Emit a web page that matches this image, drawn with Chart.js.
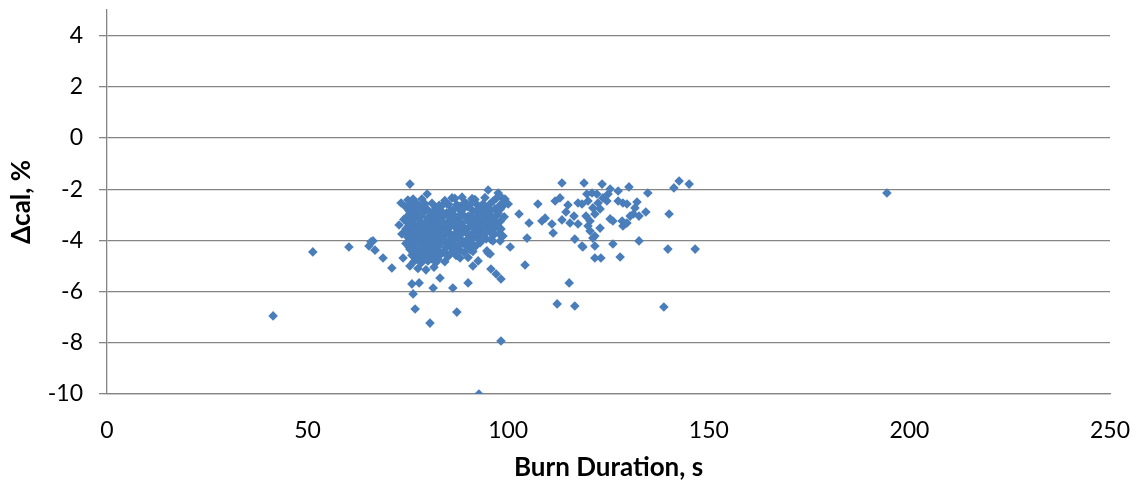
<!DOCTYPE html>
<html>
<head>
<meta charset="utf-8">
<script src="https://cdn.jsdelivr.net/npm/chart.js@4.4.1/dist/chart.umd.min.js"></script>
<style>
  html, body { margin: 0; padding: 0; background: #fff; }
  #wrap { width: 1142px; height: 492px; }
</style>
</head>
<body>
<div id="wrap"><canvas id="scatter"></canvas></div>
<script>
// Sparse burns on the left and the odd outliers
const sparseBurn = [41.4, 51.3, 60.3, 65.3, 65.8, 66.3, 66.8, 68.8, 71.0, 73.8, 75.5, 76.0, 77.8, 76.3, 76.8,
  80.5, 81.3, 83.0, 86.2, 87.2, 90.0, 91.2, 92.5, 95.7, 97.0, 98.2, 98.2, 92.7, 194.4];
const sparseDelta = [-6.95, -4.45, -4.26, -4.22, -4.05, -4.02, -4.38, -4.69, -5.08, -4.69, -5.00, -5.70, -5.66, -6.09, -6.68,
  -7.23, -5.86, -5.47, -5.86, -6.80, -5.66, -5.00, -4.80, -5.12, -5.31, -5.51, -7.93, -10.0, -2.15];

// Dense group, roughly 73-100 s
const clusterBurn = [
  75.5, 73.3, 76.3, 77.3, 79.8, 72.8, 73.5, 75.0, 95.0, 97.5, 99.2, 100.0, 100.5, 95.0, 98.7, 98.0, 96.2, 94.7, 95.5,
  75.0, 76.8, 78.5, 81.0, 84.2, 86.7, 89.2, 91.7, 93.7, 96.2, 98.5,
  75.8, 77.5, 79.3, 82.8, 85.2, 88.0, 90.5,
  74.5, 76.0, 78.0, 80.0, 82.0, 83.5, 85.5, 87.5, 90.0, 92.5, 94.5, 96.7, 98.7,
  75.3, 77.0, 79.0, 81.3, 83.3, 85.7, 88.2, 92.0, 94.2,
  75.5, 77.3, 79.0, 80.8, 82.5, 84.7, 86.7, 88.5, 91.0, 93.2, 95.5, 97.5,
  74.8, 76.5, 78.3, 80.0, 81.8, 83.8, 85.7, 87.7, 90.0, 92.2, 94.7,
  74.0, 75.8, 77.5, 79.5, 81.3, 83.0, 85.0, 87.2, 89.5, 91.5, 94.0, 96.0, 98.0,
  75.0, 76.5, 78.5, 80.5, 82.3, 84.0, 86.2, 88.5, 90.7, 93.0, 95.2,
  75.3, 76.8, 78.5, 80.3, 82.0, 83.8, 86.0, 88.2, 90.5, 92.5, 94.7, 97.0,
  74.5, 76.0, 77.8, 79.3, 81.3, 83.0, 85.0, 87.2, 89.5, 92.0, 94.2, 96.5,
  74.3, 76.0, 77.8, 79.5, 81.0, 82.8, 84.8, 87.0, 89.0, 91.2, 93.5, 95.5, 97.7,
  75.5, 77.0, 78.8, 80.5, 82.3, 84.2, 86.2, 88.2, 90.5, 93.0,
  75.0, 76.8, 78.3, 80.0, 81.8, 83.5, 85.5, 87.7, 90.0, 92.2, 94.5,
  75.8, 77.3, 79.0, 80.8, 82.5, 84.2, 86.0, 88.0, 90.0,
  74.5, 76.3, 78.0, 79.8, 81.3, 83.0, 84.8, 86.7, 88.7, 91.0, 93.0,
  75.3, 77.0, 79.0, 80.8, 82.5, 84.5, 86.7,
  75.5, 77.3, 78.8, 80.5, 82.3, 84.0, 86.0, 88.0, 90.5,
  76.3, 78.0, 80.0, 81.8, 83.5, 85.5,
  76.0, 77.8, 79.5, 81.3, 83.0, 85.0, 87.0,
  77.0, 79.0, 80.8, 82.5,
  76.5, 78.3, 80.0, 82.0, 84.2,
  77.5, 79.5, 81.5,
  86.0, 88.5, 91.0, 94.2, 97.0,
  84.7, 87.2, 89.7, 92.2, 95.5, 98.0,
  86.2, 88.7, 91.2, 93.2, 95.7, 98.0,
  86.0, 88.0, 90.5, 93.0, 95.2, 97.2, 99.0,
  85.5, 87.7, 90.2, 92.5, 95.0, 97.0,
  85.0, 87.0, 89.2, 91.5, 93.7, 96.0, 98.2,
  85.5, 87.5, 89.7, 92.0, 94.2, 96.5,
  86.0, 88.5, 91.0, 93.2, 95.7,
  85.5, 87.7, 89.7, 92.0,
  86.7, 89.0, 91.2,
  88.0, 90.0
];
const clusterDelta = [
  -1.80, -2.54, -2.38, -2.58, -2.19, -3.40, -3.75, -3.32, -2.03, -2.15, -2.38, -2.58, -4.26, -4.49, -3.83, -4.02, -4.02, -4.41, -4.53,
  -2.42, -2.50, -2.38, -2.55, -2.44, -2.36, -2.52, -2.40, -2.58, -2.47, -2.35,
  -2.60, -2.66, -2.58, -2.63, -2.60, -2.67, -2.59,
  -2.70, -2.78, -2.66, -2.81, -2.72, -2.64, -2.85, -2.75, -2.68, -2.80, -2.71, -2.77, -2.65,
  -2.84, -2.88, -2.82, -2.87, -2.85, -2.90, -2.83, -2.86, -2.89,
  -2.95, -3.02, -2.90, -3.05, -2.98, -2.92, -3.04, -2.96, -3.08, -2.91, -3.00, -2.94,
  -3.08, -3.11, -3.06, -3.12, -3.09, -3.07, -3.13, -3.10, -3.06, -3.11, -3.08,
  -3.18, -3.25, -3.14, -3.28, -3.21, -3.16, -3.27, -3.19, -3.12, -3.24, -3.22, -3.15, -3.26,
  -3.31, -3.35, -3.30, -3.34, -3.32, -3.36, -3.29, -3.33, -3.35, -3.30, -3.34,
  -3.42, -3.48, -3.38, -3.50, -3.41, -3.46, -3.37, -3.52, -3.44, -3.40, -3.47, -3.39,
  -3.55, -3.58, -3.53, -3.57, -3.54, -3.59, -3.56, -3.53, -3.58, -3.55, -3.57, -3.54,
  -3.65, -3.72, -3.61, -3.70, -3.66, -3.74, -3.63, -3.69, -3.60, -3.71, -3.64, -3.68, -3.73,
  -3.79, -3.81, -3.77, -3.82, -3.78, -3.80, -3.83, -3.77, -3.81, -3.79,
  -3.88, -3.95, -3.86, -3.97, -3.90, -3.84, -3.96, -3.89, -3.93, -3.87, -3.94,
  -4.02, -4.04, -4.00, -4.05, -4.01, -4.03, -4.06, -4.02, -4.00,
  -4.12, -4.18, -4.08, -4.20, -4.13, -4.16, -4.10, -4.19, -4.11, -4.15, -4.09,
  -4.26, -4.28, -4.24, -4.27, -4.25, -4.29, -4.26,
  -4.35, -4.42, -4.33, -4.40, -4.37, -4.44, -4.31, -4.39, -4.36,
  -4.49, -4.51, -4.47, -4.50, -4.48, -4.52,
  -4.58, -4.64, -4.60, -4.66, -4.57, -4.63, -4.59,
  -4.73, -4.75, -4.71, -4.74,
  -4.82, -4.88, -4.80, -4.86, -4.83,
  -5.10, -5.15, -5.05,
  -2.34, -2.31, -2.37, -2.33, -2.36,
  -2.58, -2.61, -2.56, -2.60, -2.57, -2.62,
  -2.81, -2.79, -2.84, -2.80, -2.83, -2.78,
  -3.05, -3.03, -3.07, -3.04, -3.06, -3.02, -3.08,
  -3.28, -3.31, -3.26, -3.30, -3.27, -3.32,
  -3.52, -3.49, -3.54, -3.51, -3.53, -3.50, -3.55,
  -3.75, -3.78, -3.73, -3.76, -3.74, -3.77,
  -3.98, -4.01, -3.96, -4.00, -3.97,
  -4.22, -4.20, -4.24, -4.21,
  -4.45, -4.47, -4.43,
  -4.69, -4.67
];

// Longer burns, roughly 100-150 s
const longBurn = [
  113.4, 118.9, 123.4, 130.1, 125.4, 134.8, 142.6, 141.3, 145.1, 140.1, 139.8, 146.6, 132.6, 134.3, 132.1,
  127.9, 126.1, 121.6, 123.1, 118.6, 116.6, 121.1, 115.2, 104.2, 104.7, 105.2, 102.7, 107.4, 111.7, 112.9,
  109.2, 108.4, 110.9, 111.2, 114.9, 114.4, 113.4, 115.4, 117.4, 118.4, 116.4, 117.4, 119.6, 120.9, 122.1,
  119.9, 121.1, 122.4, 123.6, 124.9, 119.4, 120.4, 121.6, 122.9, 120.4, 121.6, 119.9, 122.9, 125.4, 126.1,
  124.6, 127.4, 128.6, 129.6, 128.4, 128.6, 129.6, 130.4, 131.2, 131.6, 132.6, 127.4, 129.1, 121.6, 118.4,
  112.2, 116.6, 138.8
];
const longDelta = [
  -1.76, -1.76, -1.80, -1.91, -1.99, -2.15, -1.68, -1.95, -1.80, -2.97, -4.34, -4.34, -4.02, -2.89, -2.50,
  -4.65, -4.14, -4.69, -4.69, -4.26, -3.95, -3.91, -5.66, -4.96, -3.91, -3.32, -2.97, -2.58, -2.46, -2.34,
  -3.13, -3.24, -3.36, -3.71, -2.62, -2.89, -3.20, -3.32, -2.54, -2.58, -3.05, -3.36, -2.19, -2.15, -2.19,
  -2.46, -2.73, -2.54, -2.34, -2.19, -3.05, -3.24, -2.97, -2.77, -3.63, -3.83, -3.44, -3.52, -3.16, -3.24,
  -2.46, -2.46, -2.54, -2.58, -3.24, -3.44, -3.32, -3.05, -2.97, -2.73, -3.05, -2.07, -3.36, -4.22, -4.22,
  -6.48, -6.56, -6.60
];

const xTicks = [0, 50, 100, 150, 200, 250];
const yTicks = [-10, -8, -6, -4, -2, 0, 2, 4];

const toPoints = (xs, ys) => xs.map((x, i) => ({ x, y: ys[i] }));
const points = [
  ...toPoints(sparseBurn, sparseDelta),
  ...toPoints(clusterBurn, clusterDelta),
  ...toPoints(longBurn, longDelta)
];

const axisGrey = '#858585';
const fontFamily = "Lato, 'DejaVu Sans', sans-serif";

new Chart(document.getElementById('scatter'), {
  type: 'scatter',
  data: {
    datasets: [{
      data: points,
      pointStyle: 'rectRot',
      pointRadius: 4.8,
      pointHoverRadius: 4.8,
      backgroundColor: '#4A7EBB',
      borderColor: '#4A7EBB',
      borderWidth: 0
    }]
  },
  options: {
    responsive: true,
    maintainAspectRatio: false,
    animation: false,
    layout: { padding: { top: 10, right: 32, bottom: 0, left: 0 } },
    plugins: { legend: { display: false }, tooltip: { enabled: false } },
    scales: {
      x: {
        type: 'linear',
        min: 0,
        max: 250,
        afterBuildTicks: s => { s.ticks = xTicks.map(value => ({ value })); },
        afterFit: s => { s.height = 98; s.paddingLeft = 0; s.paddingRight = 0; },
        grid: { display: false },
        border: { display: true, color: axisGrey, width: 1.3 },
        ticks: { color: '#000', font: { family: fontFamily, size: 23 }, padding: 15 },
        title: {
          display: true,
          text: 'Burn Duration, s',
          color: '#000',
          font: { family: fontFamily, size: 26, weight: 'bold' },
          padding: { top: 0, bottom: 9 }
        }
      },
      y: {
        type: 'linear',
        min: -10,
        max: 5,
        afterBuildTicks: s => { s.ticks = yTicks.map(value => ({ value })); },
        afterFit: s => { s.width = 107; s.paddingTop = 0; s.paddingBottom = 0; },
        grid: { color: axisGrey, lineWidth: 1.3, drawTicks: true, tickLength: 8 },
        border: { display: true, color: axisGrey, width: 1.3 },
        ticks: { color: '#000', font: { family: fontFamily, size: 23 }, padding: 16 },
        title: {
          display: true,
          text: 'Δcal, %',
          color: '#000',
          font: { family: fontFamily, size: 26, weight: 'bold' },
          padding: { top: 6, bottom: 0 }
        }
      }
    }
  }
});
</script>
</body>
</html>
